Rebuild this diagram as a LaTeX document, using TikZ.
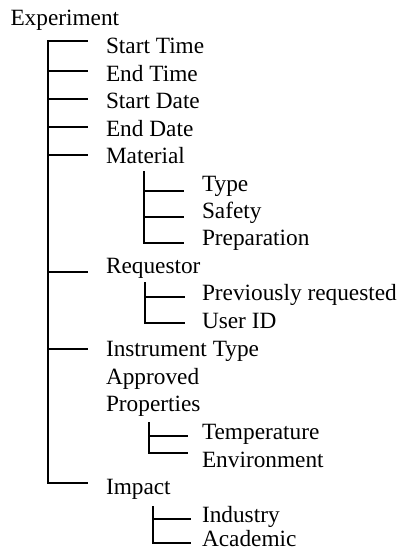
\documentclass[tikz,border=0pt]{standalone}
\usepackage{fontspec}
\setmainfont{Liberation Serif}
\begin{document}
\begin{tikzpicture}[x=1pt,y=-1pt,
  lbl/.style={anchor=base west,inner sep=0pt,outer sep=0pt,font=\fontsize{23.3}{27}\selectfont},
  tree/.style={line width=1.6pt,line cap=rect}]
\useasboundingbox (0,0) rectangle (403,550);
% texts
\node[lbl] (exp) at (10.5,25) {Experiment};
\node[lbl] (st) at (106,53) {Start Time};
\node[lbl] (et) at (106,81) {End Time};
\node[lbl] (sd) at (106,108.5) {Start Date};
\node[lbl] (ed) at (106,136) {End Date};
\node[lbl] (mat) at (106,163.5) {Material};
\node[lbl] (typ) at (202,191.5) {Type};
\node[lbl] (saf) at (202,218) {Safety};
\node[lbl] (prep) at (202,245) {Preparation};
\node[lbl] (req) at (106,273) {Requestor};
\node[lbl] (prev) at (202,300) {Previously requested};
\node[lbl] (uid) at (202,328) {User ID};
\node[lbl] (inst) at (106,356) {Instrument Type};
\node[lbl] (appr) at (106,384) {Approved};
\node[lbl] (prop) at (106,411.5) {Properties};
\node[lbl] (temp) at (202,439) {Temperature};
\node[lbl] (env) at (202,467) {Environment};
\node[lbl] (imp) at (106,494.5) {Impact};
\node[lbl] (ind) at (202,522) {Industry};
\node[lbl] (aca) at (202,546) {Academic};
% main trunk
\coordinate (mtop) at (48,41);
\coordinate (mbot) at (48,483);
\draw[tree] (mtop) -- (mbot);
\foreach \y/\n in {41/a,71/b,99/c,127/d,155/e,272/f,349/g,483/h}{
  \coordinate (mt\n) at (48,\y);
  \coordinate (me\n) at (87,\y);
  \draw[tree] (mt\n) -- (me\n);
}
% material sub
\coordinate (s1top) at (144,172);
\coordinate (s1bot) at (144,243);
\draw[tree] (s1top) -- (s1bot);
\foreach \y/\n in {191/a,217/b,243/c}{
  \coordinate (s1t\n) at (144,\y);
  \coordinate (s1e\n) at (183,\y);
  \draw[tree] (s1t\n) -- (s1e\n);
}
% requestor sub
\coordinate (s2top) at (145,283);
\coordinate (s2bot) at (145,323);
\draw[tree] (s2top) -- (s2bot);
\foreach \y/\n in {297/a,323/b}{
  \coordinate (s2t\n) at (145,\y);
  \coordinate (s2e\n) at (184,\y);
  \draw[tree] (s2t\n) -- (s2e\n);
}
% properties sub
\coordinate (s3top) at (149,423);
\coordinate (s3bot) at (149,453);
\draw[tree] (s3top) -- (s3bot);
\foreach \y/\n in {436/a,453/b}{
  \coordinate (s3t\n) at (149,\y);
  \coordinate (s3e\n) at (187,\y);
  \draw[tree] (s3t\n) -- (s3e\n);
}
% impact sub
\coordinate (s4top) at (153,507);
\coordinate (s4bot) at (153,543);
\draw[tree] (s4top) -- (s4bot);
\foreach \y/\n in {519/a,543/b}{
  \coordinate (s4t\n) at (153,\y);
  \coordinate (s4e\n) at (190,\y);
  \draw[tree] (s4t\n) -- (s4e\n);
}
\end{tikzpicture}
\end{document}
